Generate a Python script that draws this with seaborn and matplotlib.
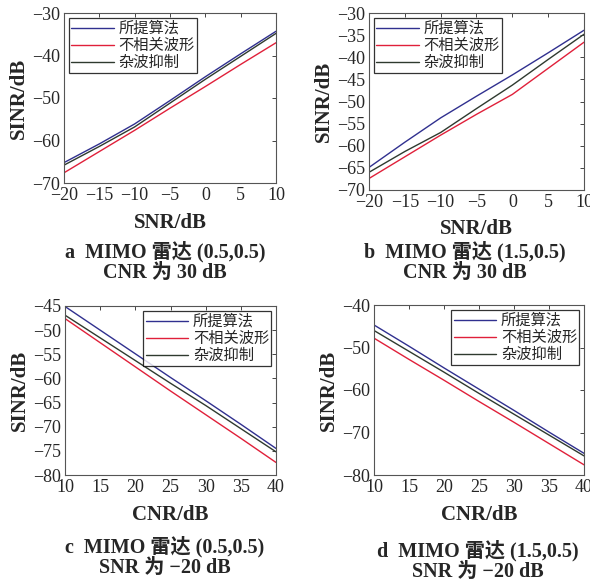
import numpy as np
import pandas as pd
import seaborn as sns
import matplotlib.pyplot as plt

# series names
names = ['所提算法', '不相关波形', '杂波抑制']
colors = ['#30308f', '#e0203a', '#2f3a2f']

# x values
snr = [-20, -15, -10, -5, 0, 5, 10]
cnr = [10, 15, 20, 25, 30, 35, 40]

# panel a: SINR vs SNR, (0.5,0.5), CNR 30 dB
a_prop = [-65.2, -60.8, -56.1, -50.6, -45.0, -39.6, -34.3]
a_unc = [-67.6, -62.6, -57.6, -52.4, -47.3, -42.1, -37.0]
a_clut = [-65.8, -61.4, -56.8, -51.2, -45.6, -40.2, -34.8]

# panel b: SINR vs SNR, (1.5,0.5), CNR 30 dB
b_prop = [-64.9, -59.2, -53.7, -48.8, -44.0, -39.0, -33.9]
b_unc = [-67.4, -62.5, -57.6, -52.9, -48.4, -42.5, -36.6]
b_clut = [-66.0, -61.3, -57.0, -51.6, -46.3, -40.5, -34.8]

# panel c: SINR vs CNR, (0.5,0.5), SNR -20 dB
c_prop = [-45.1, -50.0, -54.9, -59.8, -64.6, -69.5, -74.5]
c_unc = [-47.6, -52.6, -57.6, -62.6, -67.5, -72.4, -77.4]
c_clut = [-46.9, -51.6, -56.3, -61.0, -65.6, -70.4, -75.2]

# panel d: SINR vs CNR, (1.5,0.5), SNR -20 dB
d_prop = [-44.7, -49.7, -54.8, -59.8, -64.8, -69.9, -74.9]
d_unc = [-47.8, -52.8, -57.7, -62.7, -67.6, -72.6, -77.6]
d_clut = [-46.0, -50.9, -55.8, -60.8, -65.7, -70.6, -75.5]

sns.set_style('white')
plt.rcParams['font.family'] = ['Liberation Serif', 'Noto Sans CJK SC']
plt.rcParams['axes.unicode_minus'] = True

W, H = 590, 585
fig = plt.figure(figsize=(W / 100, H / 100), dpi=100)


def make_axes(left, top, right, bottom):
    return fig.add_axes([left / W, 1 - bottom / H, (right - left) / W, (bottom - top) / H])


panels = [
    dict(box=(64, 13, 276, 183), x=snr, ys=(a_prop, a_unc, a_clut), xlim=(-20, 10),
         xticks=range(-20, 11, 5), ylim=(-70, -30), yticks=range(-70, -29, 10),
         xlabel='SNR/dB', loc='upper left', cap=('a  MIMO 雷达 (0.5,0.5)', 'CNR 为 30 dB'), capx=165, capy=252),
    dict(box=(369, 13, 584, 190), x=snr, ys=(b_prop, b_unc, b_clut), xlim=(-20, 10),
         xticks=range(-20, 11, 5), ylim=(-70, -30), yticks=range(-70, -29, 5),
         xlabel='SNR/dB', loc='upper left', cap=('b  MIMO 雷达 (1.5,0.5)', 'CNR 为 30 dB'), capx=465, capy=252),
    dict(box=(65, 306, 276, 475), x=cnr, ys=(c_prop, c_unc, c_clut), xlim=(10, 40),
         xticks=range(10, 41, 5), ylim=(-80, -45), yticks=range(-80, -44, 5),
         xlabel='CNR/dB', loc='upper right', cap=('c  MIMO 雷达 (0.5,0.5)', 'SNR 为 −20 dB'), capx=165, capy=547),
    dict(box=(374, 305, 584, 475), x=cnr, ys=(d_prop, d_unc, d_clut), xlim=(10, 40),
         xticks=range(10, 41, 5), ylim=(-80, -40), yticks=range(-80, -39, 10),
         xlabel='CNR/dB', loc='upper right', cap=('d  MIMO 雷达 (1.5,0.5)', 'SNR 为 −20 dB'), capx=478, capy=551),
]

for p in panels:
    ax = make_axes(*p['box'])
    df = pd.DataFrame({
        'x': list(p['x']) * 3,
        'y': p['ys'][0] + p['ys'][1] + p['ys'][2],
        'name': [n for n in names for _ in p['x']],
    })
    sns.lineplot(data=df, x='x', y='y', hue='name', hue_order=names,
                 palette=colors, linewidth=1.0, ax=ax)
    ax.set_xlim(*p['xlim'])
    ax.set_ylim(*p['ylim'])
    ax.set_xticks(list(p['xticks']))
    ax.set_yticks(list(p['yticks']))
    ax.tick_params(direction='in', top=True, right=True, length=3,
                   labelsize=13, width=0.6, pad=3)
    for s in ax.spines.values():
        s.set_linewidth(0.8)
        s.set_color('#555555')
    ax.set_xlabel(p['xlabel'], fontsize=15, fontweight='bold', labelpad=6)
    ax.set_ylabel('SINR/dB', fontsize=15, fontweight='bold', labelpad=2)
    leg = ax.legend(loc=p['loc'], fontsize=11, frameon=True, fancybox=False,
                    borderpad=0.15, labelspacing=0.0, handlelength=2.8,
                    handletextpad=0.3, borderaxespad=0.3)
    leg.get_frame().set_edgecolor('black')
    leg.get_frame().set_linewidth(0.9)
    for t in leg.get_texts():
        t.set_family(['Noto Sans CJK SC'])
    fig.text(p['capx'] / W, 1 - p['capy'] / H, p['cap'][0], ha='center', va='center',
             fontsize=14.5, fontweight='bold')
    fig.text(p['capx'] / W, 1 - (p['capy'] + 21) / H, p['cap'][1], ha='center', va='center',
             fontsize=14.5, fontweight='bold')

fig.savefig('out.png', dpi=100, facecolor='white')
